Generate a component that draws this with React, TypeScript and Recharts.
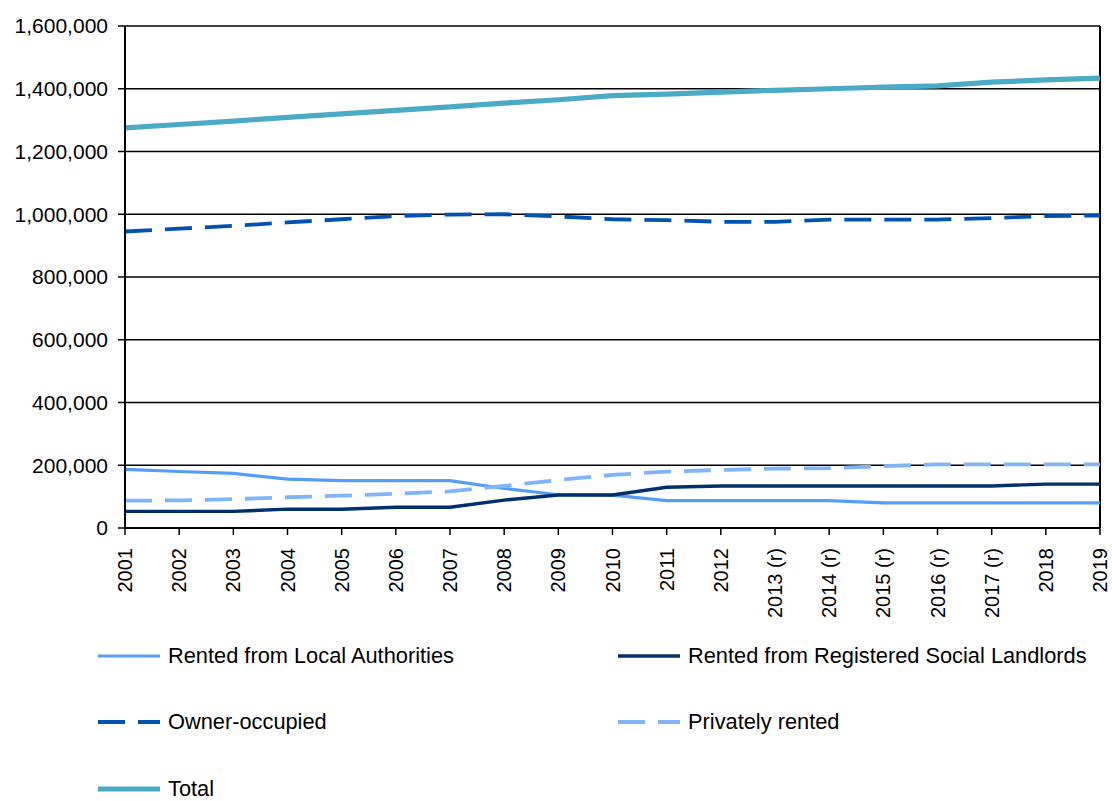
import {
  CartesianGrid,
  Legend,
  Line,
  LineChart,
  ReferenceLine,
  XAxis,
  YAxis,
} from "recharts";

const years = [
  "2001", "2002", "2003", "2004", "2005", "2006", "2007", "2008", "2009", "2010",
  "2011", "2012", "2013 (r)", "2014 (r)", "2015 (r)", "2016 (r)", "2017 (r)", "2018", "2019",
];

const localAuthorities = [
  187000, 180000, 174000, 156000, 151000, 151000, 151000, 126000, 106000, 105000,
  87000, 87000, 87000, 87000, 80000, 80000, 80000, 80000, 80000,
];

const socialLandlords = [
  53000, 53000, 53000, 60000, 60000, 66000, 66000, 89000, 105000, 105000,
  130000, 134000, 134000, 134000, 134000, 134000, 134000, 140000, 140000,
];

const ownerOccupied = [
  945000, 954000, 963000, 974000, 984000, 994000, 999000, 1000000, 993000, 984000,
  981000, 976000, 976000, 983000, 983000, 983000, 988000, 994000, 996000,
];

const privatelyRented = [
  87000, 88000, 92000, 98000, 103000, 109000, 117000, 134000, 153000, 169000,
  180000, 185000, 189000, 191000, 197000, 203000, 203000, 203000, 203000,
];

const total = [
  1275000, 1286000, 1297000, 1309000, 1320000, 1331000, 1342000, 1354000, 1365000, 1378000,
  1383000, 1389000, 1395000, 1400000, 1405000, 1409000, 1421000, 1428000, 1434000,
];

const yTicks = [0, 200000, 400000, 600000, 800000, 1000000, 1200000, 1400000, 1600000];

const data = years.map((year, i) => ({
  year,
  la: localAuthorities[i],
  rsl: socialLandlords[i],
  owner: ownerOccupied[i],
  privateRented: privatelyRented[i],
  total: total[i],
}));

const FONT = '"Liberation Sans", Arial, sans-serif';

const series = [
  { key: "la", name: "Rented from Local Authorities", color: "#559EF8", width: 3.2, dash: undefined },
  { key: "rsl", name: "Rented from Registered Social Landlords", color: "#00306C", width: 3.4, dash: undefined },
  { key: "owner", name: "Owner-occupied", color: "#0052B2", width: 3.8, dash: "27 13" },
  { key: "privateRented", name: "Privately rented", color: "#7FB5F8", width: 3.8, dash: "27 13" },
  { key: "total", name: "Total", color: "#4BABC6", width: 5.2, dash: undefined },
];

// legend slots: [left, centre y] relative to the legend wrapper
const legendSlots = [
  [97, 36],
  [617, 36],
  [97, 102],
  [617, 102],
  [97, 169],
];

function YearTick({ x, y, payload }: any) {
  return (
    <text
      x={0}
      y={0}
      transform={`translate(${x},${y + 11}) rotate(-90)`}
      textAnchor="end"
      dominantBaseline="central"
      fontFamily={FONT}
      fontSize={20}
      fill="#000"
    >
      {payload.value}
    </text>
  );
}

function ChartLegend() {
  return (
    <div style={{ position: "relative", width: 1112, height: 181 }}>
      {series.map((s, i) => {
        const [left, cy] = legendSlots[i];
        return (
          <div
            key={s.key}
            style={{
              position: "absolute",
              left,
              top: cy - 15,
              height: 30,
              display: "flex",
              alignItems: "center",
              whiteSpace: "nowrap",
            }}
          >
            <svg width={64} height={30} style={{ display: "block" }}>
              <line
                x1={1}
                y1={15}
                x2={63}
                y2={15}
                stroke={s.color}
                strokeWidth={s.width}
                strokeDasharray={s.dash}
              />
            </svg>
            <span
              style={{
                marginLeft: 7,
                fontFamily: FONT,
                fontSize: 21.8,
                color: "#000",
                lineHeight: "30px",
              }}
            >
              {s.name}
            </span>
          </div>
        );
      })}
    </div>
  );
}

export default function App() {
  return (
    <div style={{ position: "absolute", left: 0, top: 0, background: "#fff" }}>
      <LineChart
        width={1112}
        height={801}
        data={data}
        margin={{ top: 26, right: 12, bottom: 173, left: 0 }}
      >
        <CartesianGrid vertical={false} stroke="#000" strokeWidth={1.5} />
        <XAxis
          dataKey="year"
          interval={0}
          height={100}
          tick={<YearTick />}
          tickSize={7}
          tickLine={{ stroke: "#000", strokeWidth: 1.5 }}
          axisLine={{ stroke: "#000", strokeWidth: 2 }}
        />
        <YAxis
          width={125}
          domain={[0, 1600000]}
          ticks={yTicks}
          interval={0}
          tickSize={7}
          tickMargin={10}
          tickFormatter={(v) => Number(v).toLocaleString("en-US")}
          tick={{ fontFamily: FONT, fontSize: 21, fill: "#000" }}
          tickLine={{ stroke: "#000", strokeWidth: 1.5 }}
          axisLine={{ stroke: "#000", strokeWidth: 2 }}
        />
        <ReferenceLine x="2019" stroke="#000" strokeWidth={2} />
        {series.map((s) => (
          <Line
            key={s.key}
            type="linear"
            dataKey={s.key}
            name={s.name}
            stroke={s.color}
            strokeWidth={s.width}
            strokeDasharray={s.dash}
            dot={false}
            activeDot={false}
            isAnimationActive={false}
          />
        ))}
        <Legend
          layout="horizontal"
          verticalAlign="middle"
          align="center"
          wrapperStyle={{ top: 620, left: 0, width: 1112, height: 181 }}
          content={() => <ChartLegend />}
        />
      </LineChart>
    </div>
  );
}
